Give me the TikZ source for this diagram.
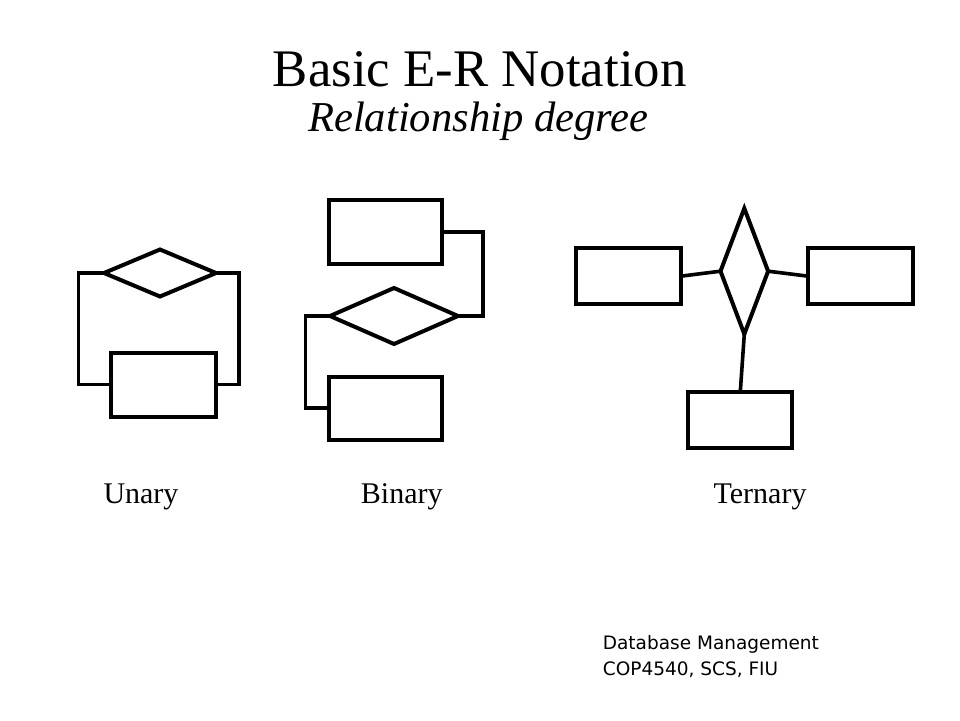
\documentclass[tikz,border=0pt]{standalone}
\usepackage{fontspec}
\setmainfont{Liberation Serif}
\newfontfamily\notefont{DejaVu Sans}
\usetikzlibrary{shapes.geometric}
\begin{document}
\begin{tikzpicture}[x=1pt,y=-1pt,
		entity/.style={draw,line width=4pt,inner sep=0pt,outer sep=0pt,minimum width=#1},
		entity/.default=105pt,
		relation/.style={draw,diamond,line width=4pt,inner sep=0pt,outer sep=0pt},
		link/.style={line width=3.6pt},
		label/.style={inner sep=0pt,font=\fontsize{30}{36}\selectfont}]
	\useasboundingbox (0,0) rectangle (960,720);
	\node[anchor=base,inner sep=0pt] (title) at (479.7,86.7) {\fontsize{52.8}{60}\selectfont Basic E-R Notation};
	\node[anchor=base,inner sep=0pt] (subtitle) at (478.3,131.7) {\fontsize{42.6}{50}\selectfont\itshape Relationship degree};
	% unary
	\node[relation,minimum width=112pt,minimum height=47pt] (urel) at (160,273) {};
	\node[entity,minimum height=64pt] (uent) at (163.2,384.5) {};
	\draw[link] (urel.west) -- ++(-25.7,0) |- (uent.west);
	\draw[link] (urel.east) -- ++(23,0) |- (uent.east);
	% binary
	\node[entity=113pt,minimum height=64pt] (btop) at (385.5,232) {};
	\node[relation,minimum width=128pt,minimum height=56pt] (brel) at (394,316) {};
	\node[entity=113pt,minimum height=63pt] (bbot) at (385.5,408) {};
	\draw[link] (btop.east) -- ++(41,0) |- (brel.east);
	\draw[link] (brel.west) -- ++(-24.5,0) |- (bbot.west);
	% ternary
	\node[relation,minimum width=47.6pt,minimum height=125.7pt] (trel) at (744.3,271.2) {};
	\node[entity=104.7pt,minimum height=55.7pt] (tleft) at (628.3,276.2) {};
	\node[entity=104.4pt,minimum height=55.7pt] (tright) at (860.5,276.2) {};
	\node[entity=104pt,minimum height=56.7pt] (tbot) at (740.3,420) {};
	\draw[link] (tleft.east) -- (trel.west);
	\draw[link] (trel.east) -- (tright.west);
	\draw[link] (trel.south) -- (tbot.north);
	% labels
	\node[label,anchor=base west] (unary) at (103.3,503.3) {Unary};
	\node[label,anchor=base west] (binary) at (360.7,503.3) {Binary};
	\node[label,anchor=base east] (ternary) at (806.7,503.3) {Ternary};
	\node[anchor=base west,inner sep=0pt,font=\notefont\fontsize{18.5}{22}\selectfont] (course) at (602.7,649.3) {Database Management};
	\node[anchor=base west,inner sep=0pt,font=\notefont\fontsize{18.5}{22}\selectfont] (school) at (602.7,675) {COP4540, SCS, FIU};
\end{tikzpicture}
\end{document}
